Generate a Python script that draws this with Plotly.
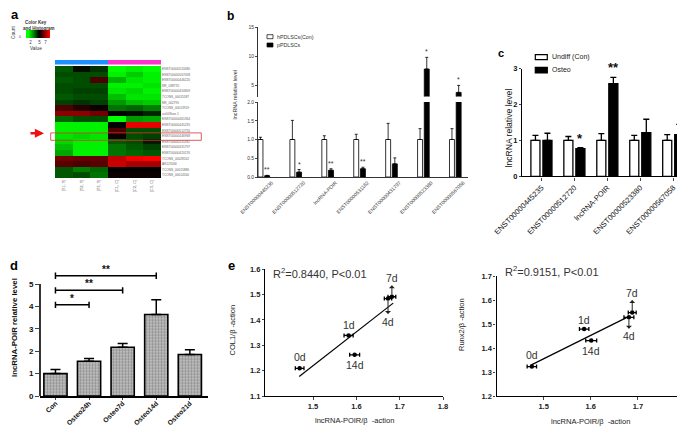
import plotly.graph_objects as go

W, H = 685, 428
FONT = "Liberation Sans"


def X(px):
    return px / W


def Y(py):
    return 1 - py / H


# ---------------- data ----------------
# panel a : heatmap
heat_rows = ["ENST00000520080", "ENST00000567058", "ENST00000446220", "NR_038770",
             "ENST00000450809", "TCONS_00015587", "NR_002795", "TCONS_00013919",
             "uc003hoe.1", "ENST00000461364", "ENST00000445235", "ENST00000512720",
             "ENST00000446968", "ENST00000531182", "ENST00000431797", "ENST00000420176",
             "TCONS_00028162", "AK123166", "TCONS_00015886", "TCONS_00014160"]
heat_cols = ["[T1, T]", "[T2, T]", "[T3, T]", "[C1, C]", "[C2, C]", "[C3, C]"]
heat_z = [
    [-0.35, -0.05, -0.2, -1.0, -0.95, -1.0],
    [-0.3, -0.3, -0.3, -0.95, -0.8, -0.95],
    [-0.35, -0.3, 0.3, -0.7, -0.9, -0.95],
    [-0.3, -0.3, -0.3, -0.95, -0.95, -0.9],
    [-0.3, -0.25, -0.25, -0.9, -0.85, -0.95],
    [-0.35, -0.3, -0.3, -0.75, -0.9, -0.9],
    [-0.25, -0.2, -0.25, -0.6, -0.75, -0.8],
    [0.3, 0.15, 0.05, -0.45, -0.4, -0.5],
    [0.55, 0.55, 0.45, 0.0, -0.05, -0.15],
    [-0.4, -0.3, -0.3, -1.0, -0.6, -0.65],
    [-0.95, -0.95, -0.95, 0.0, 0.9, 0.9],
    [-0.95, -0.95, -0.95, 0.3, -0.3, -0.3],
    [-0.9, -0.85, -0.9, 0.05, -0.3, -0.25],
    [-0.85, -0.95, -0.95, -0.35, -0.3, -0.1],
    [-0.75, -0.95, -0.95, -0.45, -0.35, -0.25],
    [-0.65, -0.95, -0.95, -0.45, -0.4, -0.35],
    [0.45, 0.4, 0.4, 0.75, 0.95, 1.0],
    [0.35, 0.3, 0.35, 0.8, 0.65, 0.65],
    [-0.35, -0.5, -0.4, 0.0, 0.0, 0.0],
    [-0.35, -0.3, -0.45, 0.05, 0.05, 0.05],
]
highlight_row = 12
group_names = ["T", "C"]
group_codes = [0, 1]
key_x = [1, 2, 3, 4, 5, 6, 7, 8]
key_ticks = [2, 5, 7]

# panel b
b_genes = ["ENST00000445235", "ENST00000512720", "lncRNA-POIR", "ENST00000531182",
           "ENST00000431797", "ENST00000523380", "ENST00000567058"]
b_con = [1, 1, 1, 1, 1, 1, 1]
b_con_err = [0.06, 0.51, 0.1, 0.14, 0.43, 0.29, 0.29]
b_p = [0.035, 0.13, 0.18, 0.22, 0.35, 7.8, 3.8]
b_p_err = [0.01, 0.07, 0.04, 0.04, 0.16, 2.0, 1.2]
b_sig = ["**", "*", "**", "**", "", "*", "*"]

# panel c
c_genes = ["ENST00000445235", "ENST00000512720", "lncRNA-POIR", "ENST00000523380",
           "ENST00000567058"]
c_con = [1, 1, 1, 1, 1]
c_con_err = [0.14, 0.11, 0.19, 0.14, 0.16]
c_os = [1.0, 0.77, 2.58, 1.22, 1.16]
c_os_err = [0.2, 0.03, 0.18, 0.37, 0.29]
c_sig = ["", "*", "**", "", ""]

# panel d
d_groups = ["Con", "Osteo24h", "Osteo7d", "Osteo14d", "Osteo21d"]
d_vals = [1.0, 1.55, 2.18, 3.64, 1.85]
d_err = [0.18, 0.13, 0.17, 0.66, 0.21]
d_pairs = [(0, 1), (0, 2), (0, 3)]
d_pair_y = [4.07, 4.72, 5.37]
d_pair_sig = ["*", "**", "**"]

# panel e
e_labels = ["0d", "1d", "14d", "4d", "7d"]
eL_x = [1.469, 1.582, 1.596, 1.673, 1.682]
eL_y = [1.21, 1.339, 1.263, 1.484, 1.491]
eL_xerr = [0.01, 0.0105, 0.0115, 0.0085, 0.009]
eL_fit_x = [1.468, 1.685]
eL_fit_y = [1.178, 1.466]
eR_x = [1.475, 1.586, 1.601, 1.681, 1.688]
eR_y = [1.324, 1.48, 1.432, 1.529, 1.549]
eR_xerr = [0.01, 0.01, 0.0116, 0.0105, 0.0084]
eR_fit_x = [1.473, 1.68]
eR_fit_y = [1.33, 1.532]
eL_stat = "R<sup>2</sup>=0.8440, P&lt;0.01"
eR_stat = "R<sup>2</sup>=0.9151, P&lt;0.01"

# ---------------- figure ----------------
fig = go.Figure()
cs = [[0, "#00ff00"], [0.5, "#000000"], [1, "#ff0000"]]

fig.add_trace(go.Heatmap(z=heat_z, x=heat_cols, y=heat_rows, colorscale=cs, zmin=-1, zmax=1,
                         showscale=False, xaxis="x", yaxis="y", hoverinfo="skip"))
fig.add_trace(go.Heatmap(z=[group_codes], x=group_names, colorscale=[[0, "#1e90ff"], [0.5, "#1e90ff"],
                                                                   [0.5, "#ff33cc"], [1, "#ff33cc"]],
                         zmin=0, zmax=1, showscale=False, xaxis="x2", yaxis="y2", hoverinfo="skip"))
fig.add_trace(go.Heatmap(z=[key_x], x=key_x, colorscale=cs, zsmooth="best", showscale=False,
                         xaxis="x3", yaxis="y3", hoverinfo="skip"))

# panel b bars (lower and upper segment)
bx = list(range(len(b_genes)))
for xa, ya in (("x4", "y4"), ("x5", "y5")):
    fig.add_trace(go.Bar(x=bx, y=b_con, width=0.155, offset=-0.18,
                         marker=dict(color="white", line=dict(color="black", width=0.8)),
                         error_y=dict(type="data", array=b_con_err, arrayminus=[0] * 7, symmetric=False,
                                      width=1.5, thickness=0.8, color="black"),
                         xaxis=xa, yaxis=ya))
    fig.add_trace(go.Bar(x=bx, y=b_p, width=0.155, offset=0.03,
                         marker=dict(color="black", line=dict(color="black", width=0.8)),
                         error_y=dict(type="data", array=b_p_err, arrayminus=[0] * 7, symmetric=False,
                                      width=1.5, thickness=0.8, color="black"),
                         xaxis=xa, yaxis=ya))

# panel c
cx = list(range(len(c_genes)))
fig.add_trace(go.Bar(x=cx, y=c_con, width=0.275, offset=-0.32,
                     marker=dict(color="white", line=dict(color="black", width=1.3)),
                     error_y=dict(type="data", array=c_con_err, arrayminus=[0] * 5, symmetric=False,
                                  width=3, thickness=1.3, color="black"),
                     xaxis="x6", yaxis="y6"))
fig.add_trace(go.Bar(x=cx, y=c_os, width=0.275, offset=0.045,
                     marker=dict(color="black", line=dict(color="black", width=1.3)),
                     error_y=dict(type="data", array=c_os_err, arrayminus=[0] * 5, symmetric=False,
                                  width=3, thickness=1.3, color="black"),
                     xaxis="x6", yaxis="y6"))

# panel d
dx = list(range(len(d_groups)))
fig.add_trace(go.Bar(x=dx, y=d_vals, width=0.69,
                     marker=dict(color="#a8a8a8", line=dict(color="black", width=1.6),
                                 pattern=dict(shape=".", size=3, solidity=0.5, fgcolor="#555555",
                                              bgcolor="#c8c8c8")),
                     error_y=dict(type="data", array=d_err, arrayminus=[0] * 5, symmetric=False,
                                  width=5, thickness=1.5, color="black"),
                     xaxis="x7", yaxis="y7"))

# panel e
for xs, ys, xe, fx, fy, xa, ya in ((eL_x, eL_y, eL_xerr, eL_fit_x, eL_fit_y, "x8", "y8"),
                                   (eR_x, eR_y, eR_xerr, eR_fit_x, eR_fit_y, "x9", "y9")):
    fig.add_trace(go.Scatter(x=fx, y=fy, mode="lines", line=dict(color="black", width=1.2),
                             xaxis=xa, yaxis=ya))
    fig.add_trace(go.Scatter(x=xs, y=ys, mode="markers",
                             marker=dict(color="black", size=4.5),
                             error_x=dict(type="data", array=xe, width=2, thickness=1.3, color="black"),
                             xaxis=xa, yaxis=ya))

# ---------------- layout ----------------
base = dict(showgrid=False, zeroline=False, automargin=False)
lay = dict(
    width=W, height=H, margin=dict(l=0, r=0, t=0, b=0, pad=0),
    paper_bgcolor="white", plot_bgcolor="white", showlegend=False, barmode="overlay",
    font=dict(family=FONT, color="#222"),
)
lay["xaxis"] = dict(base, domain=[X(47), X(153)], anchor="y", tickangle=-90, ticks="",
                    tickfont=dict(size=4, color="#666"))
lay["yaxis"] = dict(base, domain=[Y(170), Y(58)], anchor="x", autorange="reversed", side="right",
                    ticks="", tickfont=dict(size=3.2, color="#666"))
lay["xaxis2"] = dict(base, domain=[X(47), X(153)], anchor="y2", visible=False)
lay["yaxis2"] = dict(base, domain=[Y(56.5), Y(52)], anchor="x2", visible=False)
lay["xaxis3"] = dict(base, domain=[X(18), X(42)], anchor="y3", tickvals=key_ticks, ticks="",
                     tickfont=dict(size=4.5, color="#444"))
lay["yaxis3"] = dict(base, domain=[Y(30), Y(22)], anchor="x3", visible=False)

thin = dict(size=5, color="#333")
lay["xaxis4"] = dict(base, domain=[X(250), X(460)], anchor="y4", range=[-0.18, 6.4], showline=True,
                     linecolor="#333", linewidth=0.8, tickvals=bx, ticktext=b_genes, tickangle=-45,
                     ticks="", tickfont=thin, ticklabelshift=8)
lay["yaxis4"] = dict(base, domain=[Y(169), Y(94)], anchor="x4", range=[0, 2], showline=True,
                     linecolor="#333", linewidth=0.8, ticks="outside", ticklen=2, tickwidth=0.8,
                     tickvals=[0, 0.5, 1, 1.5, 2], ticktext=["0.0", "0.5", "1.0", "1.5", "2.0"],
                     tickfont=thin)
lay["xaxis5"] = dict(base, domain=[X(250), X(460)], anchor="y5", range=[-0.18, 6.4], visible=False)
lay["yaxis5"] = dict(base, domain=[Y(88.5), Y(19)], anchor="x5", range=[3.1, 15], showline=True,
                     linecolor="#333", linewidth=0.8, ticks="outside", ticklen=2, tickwidth=0.8,
                     tickvals=[5, 10, 15], tickfont=thin)

lay["xaxis6"] = dict(base, domain=[X(514), X(685)], anchor="y6", range=[-0.59, 4.6], showline=True,
                     linecolor="black", linewidth=1.4, tickvals=cx, ticktext=c_genes, tickangle=-45,
                     ticks="outside", ticklen=3, tickwidth=1.2, tickfont=dict(size=7.5, color="#111"))
lay["yaxis6"] = dict(base, domain=[Y(168.3), Y(60.7)], anchor="x6", range=[0, 3], showline=True,
                     linecolor="black", linewidth=1.4, ticks="outside", ticklen=2, tickwidth=1.2,
                     tickvals=[0, 1, 2, 3], tickfont=dict(size=7.5, color="#111", weight="bold"))

lay["xaxis7"] = dict(base, domain=[X(32), X(200)], anchor="y7", range=[-0.46, 4.54], showline=True,
                     linecolor="black", linewidth=1.6, tickvals=dx, ticktext=d_groups, tickangle=-45,
                     ticks="outside", ticklen=2, tickwidth=1.4, ticklabelstandoff=-3,
                     tickfont=dict(size=6.8, color="#111", weight="bold"))
lay["yaxis7"] = dict(base, domain=[Y(388), Y(262.6)], anchor="x7", range=[0, 5.6], showline=False,
                     ticks="outside", ticklen=4, tickwidth=1.4, tickvals=[0, 1, 2, 3, 4, 5],
                     tickfont=dict(size=8, color="#111", weight="bold"))

efont = dict(size=7.5, color="#222", weight="bold")
lay["xaxis8"] = dict(base, domain=[X(257), X(435)], anchor="y8", range=[1.389, 1.8], showline=True,
                     linecolor="black", linewidth=1.2, ticks="outside", ticklen=3, tickwidth=1,
                     tickvals=[1.5, 1.6, 1.7, 1.8], tickformat=".1f", tickfont=efont)
lay["yaxis8"] = dict(base, domain=[Y(388.3), Y(261)], anchor="x8", range=[1.1, 1.6], showline=True,
                     linecolor="black", linewidth=1.2, ticks="outside", ticklen=2, tickwidth=1,
                     tickvals=[1.1, 1.2, 1.3, 1.4, 1.5, 1.6], tickformat=".1f", tickfont=efont)
lay["xaxis9"] = dict(base, domain=[X(488.5), X(677)], anchor="y9", range=[1.4, 1.8], showline=True,
                     linecolor="black", linewidth=1.2, ticks="outside", ticklen=3, tickwidth=1,
                     tickvals=[1.5, 1.6, 1.7, 1.8], tickformat=".1f", tickfont=efont)
lay["yaxis9"] = dict(base, domain=[Y(388.3), Y(268.3)], anchor="x9", range=[1.2, 1.7], showline=True,
                     linecolor="black", linewidth=1.2, ticks="outside", ticklen=2, tickwidth=1,
                     tickvals=[1.2, 1.3, 1.4, 1.5, 1.6, 1.7], tickformat=".1f", tickfont=efont)

fig.update_layout(**lay)

ann = []
shapes = []


def txt(x, y, t, size, **kw):
    d = dict(x=x, y=y, xref="paper", yref="paper", text=t, showarrow=False,
             xanchor=kw.pop("xanchor", "center"), yanchor=kw.pop("yanchor", "middle"),
             font=dict(size=size, color=kw.pop("color", "#111"), family=FONT,
                       weight=kw.pop("weight", "normal")))
    d.update(kw)
    ann.append(d)


# panel letters
txt(X(7), Y(7), "a", 13, weight="bold", color="black")
txt(X(222), Y(8), "b", 12, weight="bold", color="black")
txt(X(493), Y(45), "c", 11, weight="bold", color="black")
txt(X(6), Y(257), "d", 13, weight="bold", color="black")
txt(X(223), Y(257), "e", 13, weight="bold", color="black")

# colour key texts
txt(X(28), Y(15), "Color Key", 4.5, color="#333", weight="bold")
txt(X(31), Y(20.5), "and Histogram", 4.5, color="#333", weight="bold")
txt(X(27.5), Y(40), "Value", 4.8, color="#333")
txt(X(5), Y(25), "Count", 4.8, color="#333", textangle=-90)
txt(X(12), Y(29), "0", 3.5, color="#444")

# highlighted row box and arrow
row_h = (170 - 58) / len(heat_rows)
top_px = 58 + highlight_row * row_h
shapes.append(dict(type="rect", xref="paper", yref="paper", x0=X(42.7), x1=X(193.3),
                   y0=Y(top_px - 0.3), y1=Y(top_px + row_h + 1.5),
                   line=dict(color="#e03030", width=0.8)))
ann.append(dict(x=X(36), y=Y(125.3), xref="paper", yref="paper", text="", showarrow=True,
                ax=-15, ay=0, arrowcolor="#ee1111", arrowwidth=2.6, arrowhead=2, arrowsize=0.7))

# panel b texts
txt(X(226.5), Y(87), "lncRNA relative level", 5.4, color="#333", textangle=-90)
shapes.append(dict(type="rect", xref="paper", yref="paper", x0=X(259), x1=X(265), y0=Y(30.7), y1=Y(26.7),
                   line=dict(color="black", width=0.7), fillcolor="white"))
shapes.append(dict(type="rect", xref="paper", yref="paper", x0=X(259), x1=X(265), y0=Y(39), y1=Y(35),
                   line=dict(color="black", width=0.7), fillcolor="black"))
txt(X(267.3), Y(28.7), "hPDLSCs(Con)", 5.3, color="#333", xanchor="left")
txt(X(267.3), Y(37), "pPDLSCs", 5.3, color="#333", xanchor="left")
for i, s in enumerate(b_sig):
    if not s:
        continue
    top = b_p[i] + b_p_err[i]
    xa, ya = ("x4", "y4") if top < 2 else ("x5", "y5")
    ann.append(dict(x=i + 0.1075, y=top, xref=xa, yref=ya, text=s, showarrow=False, yanchor="bottom",
                    xanchor="center", font=dict(size=7, color="#333", family=FONT)))

# panel c texts
txt(X(500.5), Y(120), "lncRNA relative level", 8.6, color="#111", textangle=-90)
shapes.append(dict(type="rect", xref="paper", yref="paper", x0=X(527.3), x1=X(539.3), y0=Y(51.7),
                   y1=Y(46.7), line=dict(color="black", width=1.2), fillcolor="white"))
shapes.append(dict(type="rect", xref="paper", yref="paper", x0=X(527.3), x1=X(539.3), y0=Y(65),
                   y1=Y(59.3), line=dict(color="black", width=1.2), fillcolor="black"))
txt(X(542.3), Y(49), "Undiff (Con)", 7, color="#222", xanchor="left")
txt(X(542.3), Y(62), "Osteo", 7, color="#222", xanchor="left")
for i, s in enumerate(c_sig):
    if not s:
        continue
    ann.append(dict(x=i + 0.1825, y=c_os[i] + c_os_err[i], xref="x6", yref="y6", text=s,
                    showarrow=False, yanchor="bottom", xanchor="center",
                    font=dict(size=13, color="#111", family=FONT, weight="bold")))

# panel d texts, axis line and brackets
txt(X(6), Y(320), "lncRNA-POIR relative level", 7.8, color="#111", weight="bold", textangle=-90)
shapes.append(dict(type="line", xref="x7 domain", yref="y7", x0=0, x1=0, y0=0, y1=5,
                   line=dict(color="black", width=1.6)))
for (a, b), yv, s in zip(d_pairs, d_pair_y, d_pair_sig):
    shapes.append(dict(type="line", xref="x7", yref="y7", x0=a, x1=b, y0=yv, y1=yv,
                       line=dict(color="black", width=1.5)))
    for e in (a, b):
        shapes.append(dict(type="line", xref="x7", yref="y7", x0=e, x1=e, y0=yv - 0.14, y1=yv + 0.14,
                           line=dict(color="black", width=1.5)))
    ann.append(dict(x=(a + b) / 2, y=yv, xref="x7", yref="y7", text=s, showarrow=False,
                    yanchor="bottom", xanchor="center", yshift=-1,
                    font=dict(size=10, color="#111", family=FONT, weight="bold")))

# panel e texts
txt(X(263), Y(265), eL_stat, 11, color="#333", xanchor="left")
txt(X(495), Y(262.7), eR_stat, 11, color="#333", xanchor="left")
txt(X(223.5), Y(322), "COL1/β -action", 7.5, color="#222", textangle=-90)
txt(X(453), Y(317), "Runx2/β -action", 7.5, color="#222", textangle=-90)
txt(X(346), Y(412.7), "lncRNA-POIR/β  -action", 7.5, color="#222")
txt(X(582.5), Y(413.3), "lncRNA-POIR/β  -action", 7.5, color="#222")

# label offsets (pixels, up positive) for each time point
eL_off = [11, 10, -10, -23, 19]
eR_off = [12, 9, -10, -19, 20]
for xs, ys, offs, xa, ya in ((eL_x, eL_y, eL_off, "x8", "y8"), (eR_x, eR_y, eR_off, "x9", "y9")):
    for lab, xv, yv, off in zip(e_labels, xs, ys, offs):
        f = dict(size=10.5, color="#333", family=FONT)
        if lab in ("4d", "7d"):
            ann.append(dict(x=xv, y=yv, xref=xa, yref=ya, text=lab, showarrow=True, ax=0, ay=-off,
                            arrowside="start", arrowhead=2, arrowsize=0.9, arrowwidth=1,
                            arrowcolor="#222", standoff=2, startstandoff=0, font=f))
        else:
            ann.append(dict(x=xv, y=yv, xref=xa, yref=ya, text=lab, showarrow=False, yshift=off,
                            xanchor="center", yanchor="middle", font=f))

fig.update_layout(annotations=ann, shapes=shapes)
fig.write_html("out.html")
